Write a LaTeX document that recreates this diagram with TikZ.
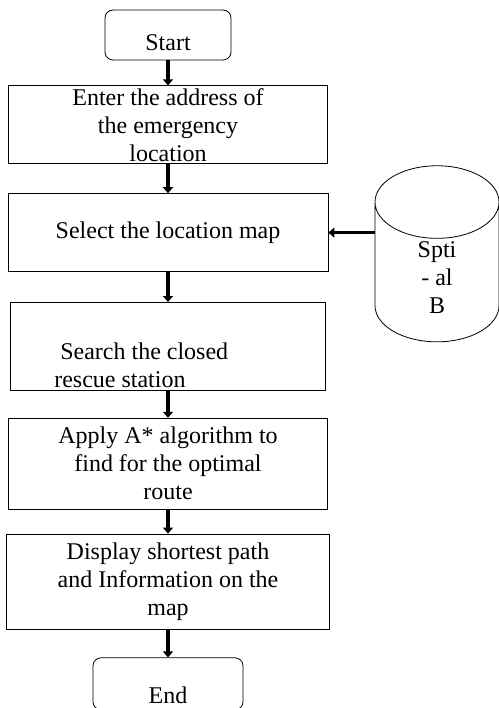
\documentclass[tikz,border=0pt]{standalone}
\usepackage{fontspec}
\setmainfont{Liberation Serif}
\usetikzlibrary{shapes.geometric, positioning, arrows.meta}

\begin{document}
\begin{tikzpicture}[
        x=1pt, y=1pt,
        every node/.style={font=\fontsize{24}{28}\selectfont},
        box/.style={draw, rectangle, line width=0.8pt, align=center, inner sep=2pt},
        terminal/.style={box, rounded corners=8pt, minimum width=126pt, minimum height=50pt, text depth=0pt},
        flow/.style={line width=3.5pt, -{Triangle[width=10pt, length=6pt]}},
    ]
        \useasboundingbox (0,0) rectangle (498,-708);

        \node[terminal, text height=32pt] at (168,-35) (start) {Start};
        \node[box, minimum width=319pt, minimum height=78pt, below=25pt of start] (enter)
            {Enter the address of\\the emergency\\location};
        \node[box, minimum width=320pt, minimum height=78pt, below=29pt of enter] (select)
            {Select the location map};
        \node[box, minimum width=315pt, minimum height=88pt, below=30pt of select] (search) {};
        \node[align=left, inner sep=0pt, anchor=base west]
            at ([xshift=44pt, yshift=3pt]search.south west) (searchtext)
            {\hspace*{6pt}Search the closed\\rescue station};
        \node[box, minimum width=319pt, minimum height=91pt, below=27pt of search] (apply)
            {Apply A* algorithm to\\find for the optimal\\route};
        \node[box, minimum width=323pt, minimum height=95pt, below=24pt of apply] (display)
            {Display shortest path\\and Information on the\\map};
        \node[terminal, minimum width=150pt, minimum height=52pt, text height=40pt,
            below=28pt of display] (end) {End};

        % spatial database
        \node[cylinder, shape border rotate=90, draw, line width=0.8pt, aspect=1.6,
            minimum width=124pt, minimum height=175pt, align=center, text depth=-63pt]
            at (437,-278) (db) {Spti\\- al\\B};

        \draw[flow] (start) -- (enter);
        \draw[flow] (enter) -- (select);
        \draw[flow] (select) -- (search);
        \draw[flow] (search) -- (apply);
        \draw[flow] (apply) -- (display);
        \draw[flow] (display) -- (end);
        \draw[flow] (db.west |- select.east) -- (select.east);
    \end{tikzpicture}
\end{document}
